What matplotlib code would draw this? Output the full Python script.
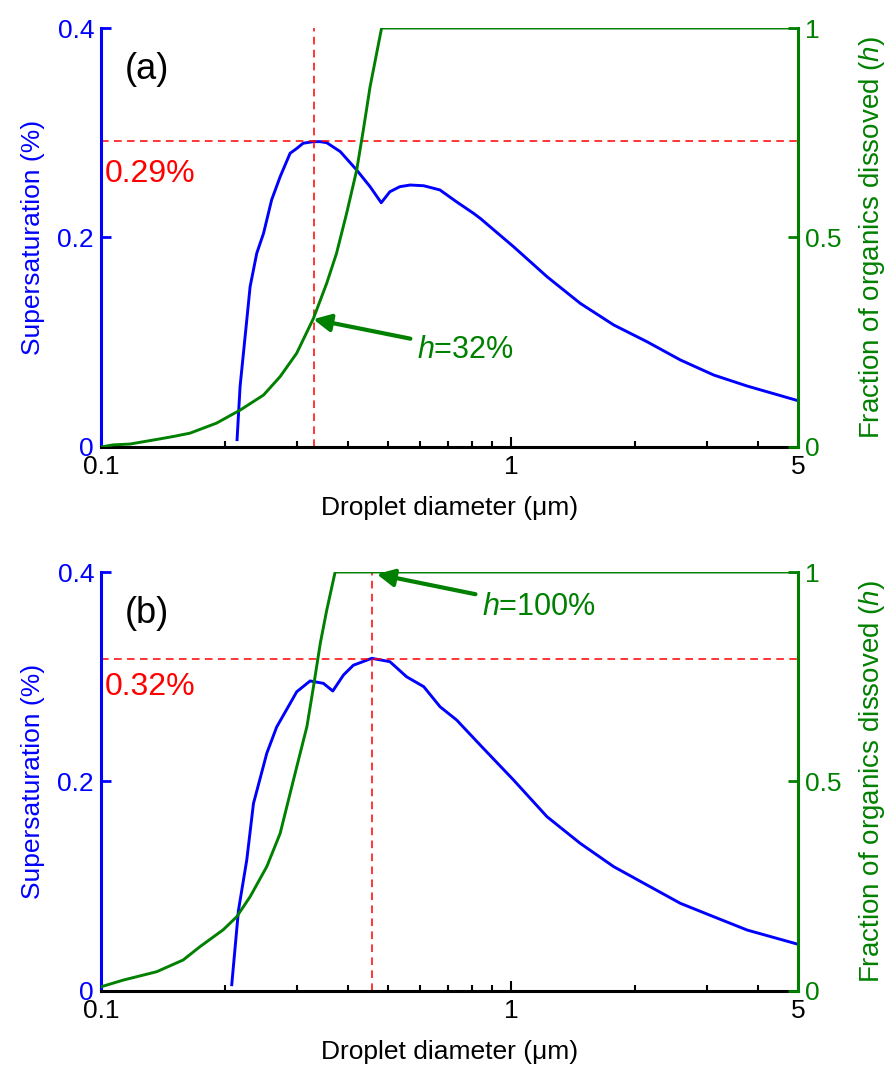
import matplotlib
matplotlib.use("Agg")
import matplotlib.pyplot as plt
from matplotlib.ticker import NullFormatter

plt.rcParams["font.family"] = ["Liberation Sans", "DejaVu Sans"]
plt.rcParams["mathtext.fontset"] = "custom"
plt.rcParams["mathtext.rm"] = "Liberation Sans"
plt.rcParams["mathtext.it"] = "Liberation Sans:italic"

BLUE = "#0000ff"
GREEN = "#008000"
RED = "#ff0000"

# ---------------- panel (a) data ----------------
d_sat_a = [0.2146, 0.2183, 0.2266, 0.2309, 0.2397, 0.249, 0.2606, 0.2733, 0.289,
           0.300, 0.311, 0.3295, 0.342, 0.355, 0.383, 0.420, 0.4528, 0.482,
           0.506, 0.535, 0.567, 0.612, 0.67, 0.736, 0.809, 0.840, 1.013, 1.222,
           1.472, 1.777, 2.142, 2.583, 3.115, 3.757, 5.0]
sat_a = [0.007, 0.058, 0.121, 0.153, 0.185, 0.204, 0.236, 0.258, 0.2804,
         0.285, 0.290, 0.2915, 0.2915, 0.2905, 0.282, 0.2644, 0.2485, 0.2332,
         0.2437, 0.2485, 0.2501, 0.2494, 0.2454, 0.234, 0.2231, 0.2183, 0.1912,
         0.1626, 0.1372, 0.1165, 0.1005, 0.0831, 0.0687, 0.0582, 0.0442]
d_frac_a = [0.100, 0.107, 0.1177, 0.1367, 0.150, 0.1648, 0.1913, 0.2183, 0.249,
            0.2733, 0.300, 0.3295, 0.355, 0.375, 0.397, 0.420, 0.436, 0.4528,
            0.483, 5.0]
frac_a = [0.0, 0.005, 0.007, 0.018, 0.025, 0.033, 0.057, 0.088, 0.124,
          0.168, 0.224, 0.307, 0.391, 0.462, 0.558, 0.661, 0.757, 0.86,
          1.0, 1.0]
crit_d_a, crit_s_a = 0.33, 0.292

# ---------------- panel (b) data ----------------
d_sat_b = [0.2083, 0.2163, 0.2266, 0.2353, 0.2536, 0.268, 0.2891, 0.300, 0.3234,
           0.3484, 0.3673, 0.390, 0.4122, 0.4571, 0.506, 0.5557, 0.612, 0.6704,
           0.736, 0.840, 1.013, 1.222, 1.472, 1.777, 2.142, 2.583, 3.115, 3.757,
           5.0]
sat_b = [0.006, 0.077, 0.125, 0.179, 0.227, 0.252, 0.2746, 0.2857, 0.296,
         0.2937, 0.2864, 0.3017, 0.311, 0.3176, 0.3144, 0.300, 0.2905, 0.2714,
         0.2587, 0.2348, 0.2014, 0.1664, 0.141, 0.1187, 0.1012, 0.0837, 0.0709,
         0.0582, 0.0446]
d_frac_b = [0.100, 0.1133, 0.1367, 0.1586, 0.1744, 0.1985, 0.2141, 0.2309,
            0.2536, 0.2733, 0.2891, 0.300, 0.3176, 0.3295, 0.3424, 0.355,
            0.3721, 5.0]
frac_b = [0.01, 0.026, 0.046, 0.074, 0.106, 0.146, 0.177, 0.225,
          0.297, 0.376, 0.472, 0.535, 0.631, 0.726, 0.83, 0.909,
          1.0, 1.0]
crit_d_b, crit_s_b = 0.457, 0.317

panels = [
    dict(tag="(a)", d_sat=d_sat_a, sat=sat_a, d_frac=d_frac_a, frac=frac_a,
         cd=crit_d_a, cs=crit_s_a, slabel="0.29%", slabel_y=0.2605,
         ann_text="$h$=32%", ann_xy=(0.329, 0.305), ann_txt_xy=(0.59, 0.232),
         bottom=0.5803),
    dict(tag="(b)", d_sat=d_sat_b, sat=sat_b, d_frac=d_frac_b, frac=frac_b,
         cd=crit_d_b, cs=crit_s_b, slabel="0.32%", slabel_y=0.290,
         ann_text="$h$=100%", ann_xy=(0.47, 0.995), ann_txt_xy=(0.85, 0.916),
         bottom=0.0695),
]

fig = plt.figure(figsize=(8.86, 10.65), dpi=100)
fs = 19

for p in panels:
    ax = fig.add_axes([0.114, p["bottom"], 0.7867, 0.3934])
    ax2 = ax.twinx()

    ax.plot(p["d_sat"], p["sat"], color=BLUE, lw=2.1)
    ax2.plot(p["d_frac"], p["frac"], color=GREEN, lw=2.1)

    ax.axvline(p["cd"], color=RED, ls=(0, (5, 3.5)), lw=1.1)
    ax.axhline(p["cs"], color=RED, ls=(0, (5, 3.5)), lw=1.1)
    ax.text(0.1023, p["slabel_y"], p["slabel"], color=RED, fontsize=23,
            ha="left", va="center")
    ax.text(0.034, 0.90, p["tag"], transform=ax.transAxes, fontsize=26,
            ha="left", va="center")

    ax2.annotate(p["ann_text"], xy=p["ann_xy"], xytext=p["ann_txt_xy"],
                 color=GREEN, fontsize=22, ha="left", va="center",
                 arrowprops=dict(arrowstyle="-|>", color=GREEN, lw=3,
                                 mutation_scale=26, shrinkA=3, shrinkB=0))

    ax.set_xscale("log")
    ax.set_xlim(0.1, 5)
    ax.set_ylim(0, 0.4)
    ax2.set_ylim(0, 1)
    ax.set_xticks([0.1, 1, 5])
    ax.set_xticklabels(["0.1", "1", "5"])
    ax.xaxis.set_minor_formatter(NullFormatter())
    ax.set_yticks([0, 0.2, 0.4])
    ax.set_yticklabels(["0", "0.2", "0.4"])
    ax2.set_yticks([0, 0.5, 1])
    ax2.set_yticklabels(["0", "0.5", "1"])

    ax.tick_params(axis="x", which="both", direction="in", top=False,
                   labelsize=fs, width=1.5, color="black", pad=6)
    ax.tick_params(axis="x", which="major", length=7)
    ax.tick_params(axis="x", which="minor", length=4)
    ax.tick_params(axis="y", direction="in", length=7, width=2,
                   colors=BLUE, labelsize=fs, pad=5)
    ax2.tick_params(axis="y", direction="in", length=7, width=2,
                    colors=GREEN, labelsize=fs, pad=5)

    for s in ["top", "right"]:
        ax.spines[s].set_visible(False)
    for s in ["top", "left", "bottom"]:
        ax2.spines[s].set_visible(False)
    ax.spines["left"].set_color(BLUE)
    ax.spines["left"].set_linewidth(2.2)
    ax.spines["bottom"].set_linewidth(2.2)
    ax2.spines["right"].set_color(GREEN)
    ax2.spines["right"].set_linewidth(2.2)

    ax.set_xlabel("Droplet diameter (\u03bcm)", fontsize=fs, labelpad=12)
    ax.set_ylabel("Supersaturation (%)", color=BLUE, fontsize=fs, labelpad=9)
    ax2.set_ylabel("Fraction of organics dissoved ($h$)", color=GREEN,
                   fontsize=20, labelpad=11)

fig.savefig("out.png", dpi=100)
